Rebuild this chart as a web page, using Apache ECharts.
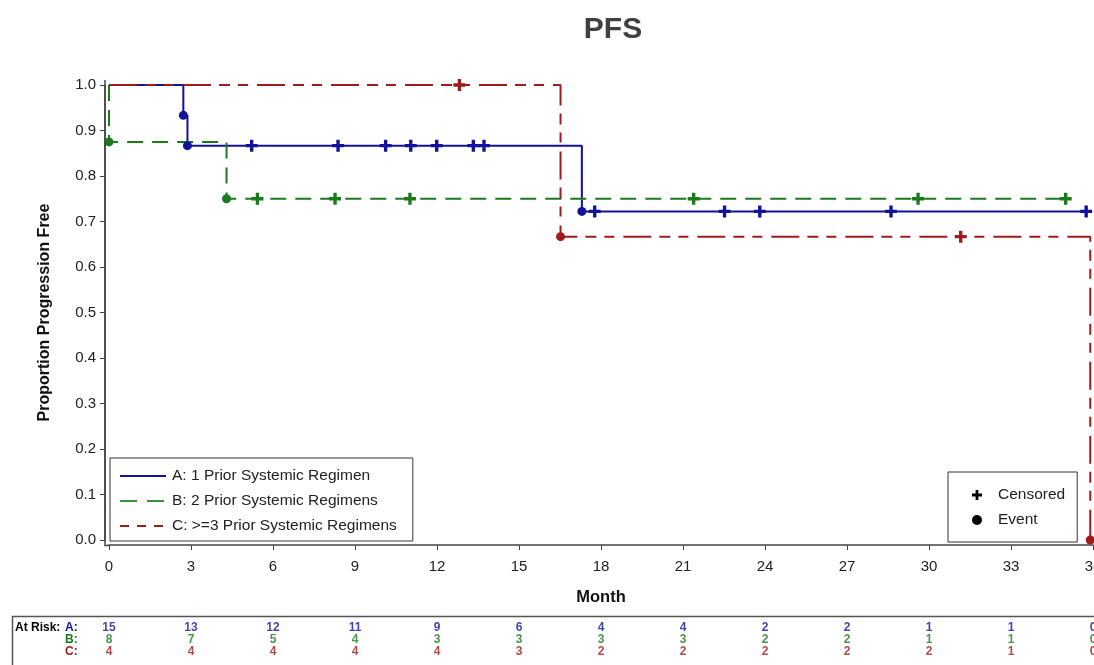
<!DOCTYPE html>
<html>
<head>
<meta charset="utf-8">
<script src="https://cdn.jsdelivr.net/npm/echarts@6/dist/echarts.min.js"></script>
<style>
  html, body { margin: 0; padding: 0; background: #fff; }
  #chart { width: 1094px; height: 665px; }
</style>
</head>
<body>
<div id="chart"></div>
<script>
// Kaplan-Meier progression-free survival by number of prior systemic regimens

const groupNames = ['A: 1 Prior Systemic Regimen', 'B: 2 Prior Systemic Regimens', 'C: >=3 Prior Systemic Regimens'];
const groupKeys = ['A', 'B', 'C'];
const groupColors = ['#12129a', '#1b7a1b', '#a01c1c'];

// Step curves: time (months) and survival after each time point
const timesA = [0, 2.72, 2.87, 17.3, 35.75];
const survA  = [1, 0.9333, 0.8667, 0.7222, 0.7222];
const timesB = [0, 0, 4.3, 35.0];
const survB  = [1, 0.875, 0.75, 0.75];
const timesC = [0, 16.52, 35.9];
const survC  = [1, 0.6667, 0];

// Event markers
const eventTimesA = [2.72, 2.87, 17.3];
const eventSurvA  = [0.9333, 0.8667, 0.7222];
const eventTimesB = [0, 4.3];
const eventSurvB  = [0.875, 0.75];
const eventTimesC = [16.52, 35.9];
const eventSurvC  = [0.6667, 0];

// Censored markers
const censorTimesA = [5.22, 8.38, 10.12, 11.04, 11.99, 13.33, 13.72, 17.77, 22.52, 23.81, 28.61, 35.75];
const censorSurvA  = [0.8667, 0.8667, 0.8667, 0.8667, 0.8667, 0.8667, 0.8667, 0.7222, 0.7222, 0.7222, 0.7222, 0.7222];
const censorTimesB = [5.43, 8.27, 11.01, 21.39, 29.6, 35.0];
const censorSurvB  = [0.75, 0.75, 0.75, 0.75, 0.75, 0.75];
const censorTimesC = [12.82, 31.16];
const censorSurvC  = [1, 0.6667];

// Number at risk table
const riskMonths = [0, 3, 6, 9, 12, 15, 18, 21, 24, 27, 30, 33, 36];
const atRiskA = [15, 13, 12, 11, 9, 6, 4, 4, 2, 2, 1, 1, 0];
const atRiskB = [8, 7, 5, 4, 3, 3, 3, 3, 2, 2, 1, 1, 0];
const atRiskC = [4, 4, 4, 4, 4, 3, 2, 2, 2, 2, 2, 1, 0];

const zip = (xs, ys) => xs.map((x, i) => [x, ys[i]]);
const curves = [zip(timesA, survA), zip(timesB, survB), zip(timesC, survC)];
const events = [zip(eventTimesA, eventSurvA), zip(eventTimesB, eventSurvB), zip(eventTimesC, eventSurvC)];
const censors = [zip(censorTimesA, censorSurvA), zip(censorTimesB, censorSurvB), zip(censorTimesC, censorSurvC)];
const risks = [atRiskA, atRiskB, atRiskC];

const lineTypes = ['solid', [16, 9], [28, 8, 11, 8, 10, 9]];
const legendLineTypes = ['solid', [17, 10], [9, 8]];
const legendLineColors = ['#12129a', '#3c8f3c', '#a01c1c'];

const FONT = '"Liberation Sans", Arial, sans-serif';
const plusPath = 'path://M3.6,0H6.4V3.6H10V6.4H6.4V10H3.6V6.4H0V3.6H3.6Z';

const series = [];
curves.forEach((data, g) => {
  series.push({
    name: groupNames[g], type: 'line', step: 'end', data: data,
    xAxisIndex: 0, yAxisIndex: 0,
    symbol: 'none', showSymbol: false, z: 3,
    lineStyle: { color: groupColors[g], width: 2, type: lineTypes[g] },
    itemStyle: { color: groupColors[g] }
  });
});
censors.forEach((data, g) => {
  series.push({
    type: 'scatter', data: data, xAxisIndex: 0, yAxisIndex: 0,
    symbol: plusPath, symbolSize: 12, z: 5,
    itemStyle: { color: groupColors[g], opacity: 1 }, silent: true
  });
});
events.forEach((data, g) => {
  series.push({
    type: 'scatter', data: data, xAxisIndex: 0, yAxisIndex: 0,
    symbol: 'circle', symbolSize: 9, z: 6,
    itemStyle: { color: groupColors[g], opacity: 1 }, silent: true
  });
});
// Marker key entries
series.push({ name: 'Censored', type: 'scatter', data: [], symbol: plusPath, itemStyle: { color: '#000', opacity: 1 } });
series.push({ name: 'Event', type: 'scatter', data: [], symbol: 'circle', itemStyle: { color: '#000', opacity: 1 } });

// At-risk counts, one row per group
risks.forEach((vals, g) => {
  series.push({
    type: 'scatter', xAxisIndex: 1, yAxisIndex: 1,
    data: riskMonths.map((m, i) => [m, g + 0.5, vals[i]]),
    symbolSize: 0, silent: true,
    label: {
      show: true, position: 'inside',
      formatter: p => String(p.value[2]),
      color: groupColors[g], fontFamily: FONT, fontWeight: 'bold', fontSize: 12
    }
  });
});

const chart = echarts.init(document.getElementById('chart'), null, { renderer: 'canvas' });
chart.setOption({
  animation: false,
  backgroundColor: '#fff',
  title: {
    text: 'PFS', left: 608, top: 10, textAlign: 'center',
    textStyle: { fontFamily: FONT, fontWeight: 'bold', fontSize: 30, color: '#404040' }
  },
  grid: [
    { left: 109, right: 1, top: 85, height: 455, outerBoundsMode: 'none', containLabel: false },
    { left: 109, right: 1, top: 622, height: 36, outerBoundsMode: 'none', containLabel: false }
  ],
  xAxis: [
    {
      type: 'value', gridIndex: 0, min: 0, max: 36, interval: 3, offset: 5,
      name: 'Month', nameLocation: 'middle', nameGap: 44,
      nameTextStyle: { fontFamily: FONT, fontWeight: 'bold', fontSize: 16.5, color: '#111' },
      axisLine: { show: true, onZero: false, lineStyle: { color: '#444', width: 1.5 } },
      axisTick: { show: true, length: 5, lineStyle: { color: '#444' } },
      axisLabel: { margin: 14, fontFamily: FONT, fontSize: 15, color: '#222', hideOverlap: false },
      splitLine: { show: false }
    },
    {
      type: 'value', gridIndex: 1, min: 0, max: 36, show: false
    }
  ],
  yAxis: [
    {
      type: 'value', gridIndex: 0, min: 0, max: 1, interval: 0.1, offset: 4,
      name: 'Proportion Progression Free', nameLocation: 'middle', nameGap: 52,
      nameTextStyle: { fontFamily: FONT, fontWeight: 'bold', fontSize: 16, color: '#111' },
      axisLine: { show: true, onZero: false, lineStyle: { color: '#444', width: 1.5 } },
      axisTick: { show: true, length: 5, lineStyle: { color: '#444' } },
      axisLabel: {
        margin: 9, fontFamily: FONT, fontSize: 15, color: '#222',
        formatter: v => v.toFixed(1)
      },
      splitLine: { show: false }
    },
    {
      type: 'value', gridIndex: 1, min: 0, max: 3, inverse: true, show: false
    }
  ],
  legend: [
    {
      orient: 'vertical', left: 110, top: 458,
      padding: [10, 16, 7, 9], itemGap: 9, itemWidth: 46, itemHeight: 14,
      borderColor: '#333', borderWidth: 1, selectedMode: false,
      textStyle: { fontFamily: FONT, fontSize: 15.5, color: '#222', padding: [0, 0, 0, 1] },
      data: groupNames.map((n, g) => ({
        name: n,
        itemStyle: { opacity: 0 },
        lineStyle: { color: legendLineColors[g], width: 2, type: legendLineTypes[g], opacity: 1 }
      }))
    },
    {
      orient: 'vertical', left: 948, top: 472,
      padding: [15, 12, 14, 24], itemGap: 9, itemWidth: 10, itemHeight: 10,
      borderColor: '#333', borderWidth: 1, selectedMode: false,
      textStyle: { fontFamily: FONT, fontSize: 15.5, color: '#222', padding: [0, 0, 0, 11] },
      data: ['Censored', 'Event']
    }
  ],
  graphic: [
    {
      // axis corner joining the offset axes
      type: 'polyline', silent: true, z: 10,
      shape: { points: [[105, 80], [105, 545.5], [110, 545.5]] },
      style: { stroke: '#444', lineWidth: 1.5, fill: 'none' }
    },
    {
      type: 'rect', left: 10, top: 614, silent: true,
      shape: { width: 1100, height: 60 },
      style: { fill: 'none', stroke: '#555', lineWidth: 1.5 }
    },
    {
      type: 'text', left: 15, top: 622, silent: true,
      style: { text: 'At Risk:', fill: '#000', font: 'bold 12px ' + FONT }
    },
    ...groupKeys.map((k, g) => ({
      type: 'text', left: 65, top: 622 + g * 12, silent: true,
      style: { text: k + ':', fill: groupColors[g], font: 'bold 12px ' + FONT }
    }))
  ],
  series: series
});
</script>
</body>
</html>
